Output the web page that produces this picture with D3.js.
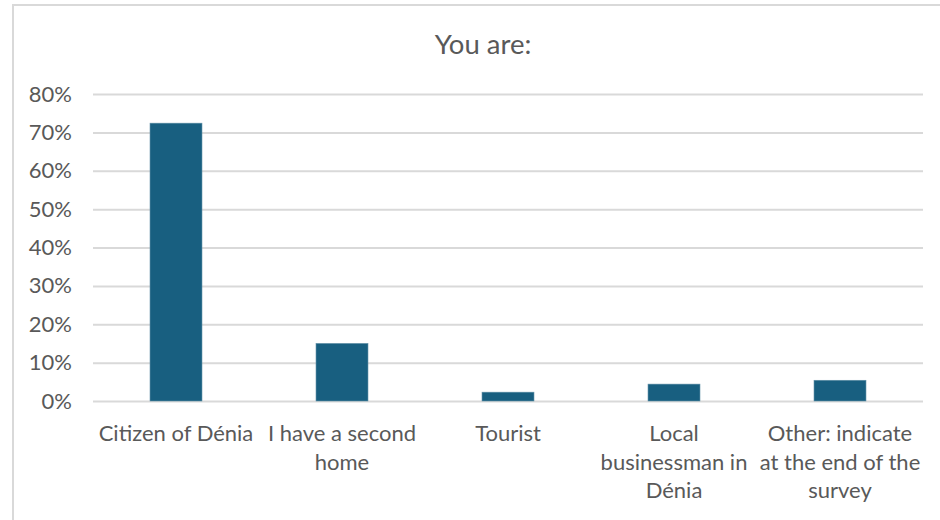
<!DOCTYPE html>
<html>
<head>
<meta charset="utf-8">
<script src="https://cdn.jsdelivr.net/npm/d3@7"></script>
<style>
  html, body { margin: 0; padding: 0; background: #fff; }
  svg { display: block; }
  text { font-family: Lato, "Open Sans", sans-serif; fill: #595959; }
</style>
</head>
<body>
<svg id="chart" width="940" height="520"></svg>
<script>
// Survey answers to "You are:" (share of respondents)
const title = "You are:";
const categories = [
  "Citizen of Dénia",
  "I have a second\nhome",
  "Tourist",
  "Local\nbusinessman in\nDénia",
  "Other: indicate\nat the end of the\nsurvey"
];
const shares = [0.724, 0.150, 0.023, 0.044, 0.054];
const yTicks = [0, 0.1, 0.2, 0.3, 0.4, 0.5, 0.6, 0.7, 0.8];

const svg = d3.select("#chart");
const W = 940, H = 520;
const plot = { left: 93, right: 923, top: 94, bottom: 401 };

// outer frame (only left and top edges fall inside the view)
svg.append("rect")
  .attr("x", 13).attr("y", 5)
  .attr("width", W + 20).attr("height", H + 20)
  .attr("fill", "none").attr("stroke", "#d9d9d9").attr("stroke-width", 2);

const x = d3.scaleBand()
  .domain(categories)
  .range([plot.left, plot.right])
  .paddingInner(0.687)
  .paddingOuter(0.3435);

const y = d3.scaleLinear()
  .domain([0, 0.8])
  .range([plot.bottom, plot.top]);

// horizontal gridlines + percent labels
const yAxis = d3.axisLeft(y)
  .tickValues(yTicks)
  .tickFormat(d3.format(".0%"))
  .tickSize(-(plot.right - plot.left))
  .tickPadding(21);

const gy = svg.append("g")
  .attr("transform", `translate(${plot.left},0)`)
  .call(yAxis);
gy.select(".domain").remove();
gy.selectAll(".tick line").attr("stroke", "#d9d9d9").attr("stroke-width", 2);
gy.selectAll(".tick text")
  .attr("font-size", 22)
  .attr("fill", "#595959")
  .style("font-family", "Lato, sans-serif");

// bars
svg.append("g").selectAll("rect")
  .data(categories.map((c, i) => ({ c, v: shares[i] })))
  .join("rect")
  .attr("x", d => x(d.c))
  .attr("y", d => y(d.v))
  .attr("width", x.bandwidth())
  .attr("height", d => y(0) - y(d.v))
  .attr("fill", "#185f80")
  .attr("stroke", "#5f8fa6")
  .attr("stroke-width", 0.6);

// category labels, wrapped on explicit line breaks
const gx = svg.append("g");
categories.forEach(c => {
  const t = gx.append("text")
    .attr("x", x(c) + x.bandwidth() / 2)
    .attr("y", 441)
    .attr("text-anchor", "middle")
    .attr("font-size", 22);
  c.split("\n").forEach((line, i) => {
    t.append("tspan")
      .attr("x", x(c) + x.bandwidth() / 2)
      .attr("dy", i === 0 ? 0 : 28.5)
      .text(line);
  });
});

// title
svg.append("text")
  .attr("x", 483).attr("y", 54)
  .attr("text-anchor", "middle")
  .attr("font-size", 27.5)
  .text(title);
</script>
</body>
</html>
